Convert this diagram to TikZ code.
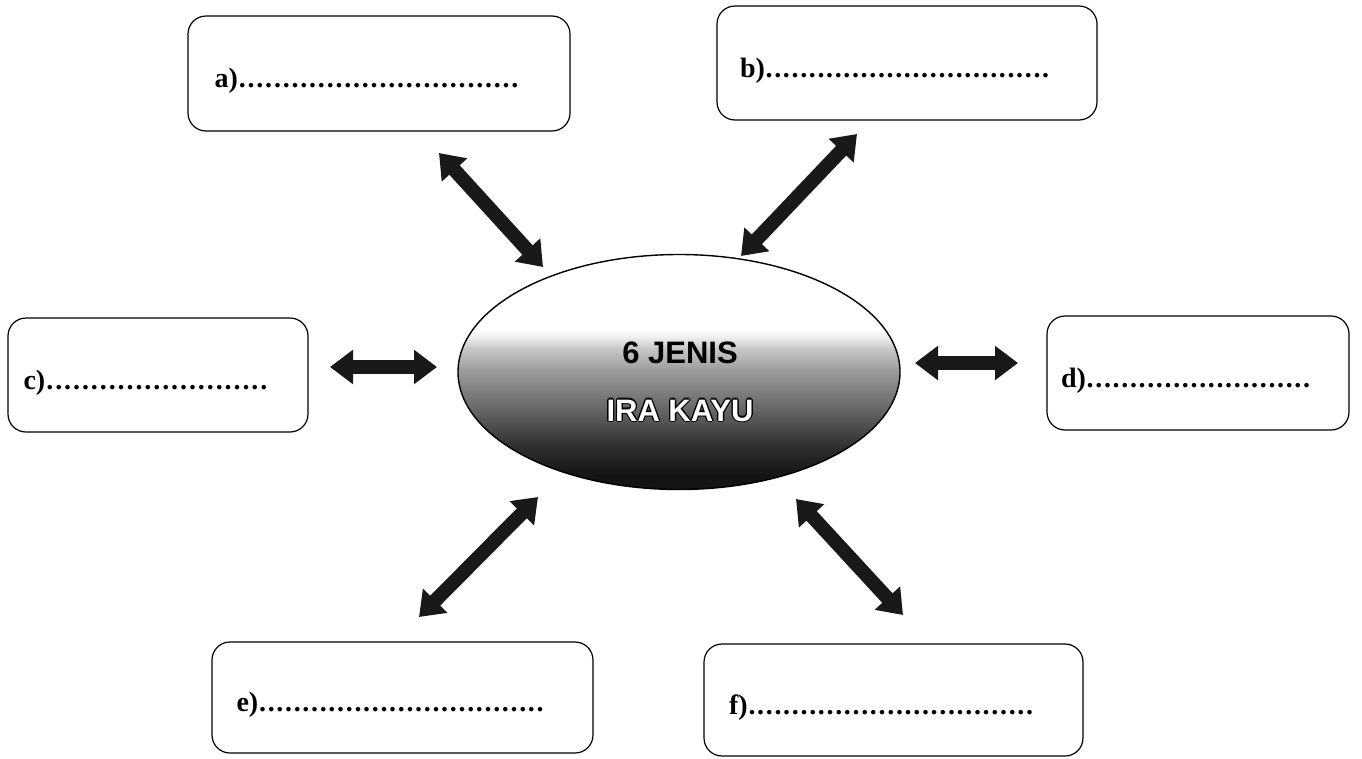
\documentclass[tikz,border=0pt]{standalone}
\usepackage{fontspec}
\setmainfont{Liberation Serif}
\newfontfamily\headfont{Liberation Sans}
\usetikzlibrary{arrows.meta,shapes.geometric}
\pgfdeclareverticalshading{irashade}{100bp}{color(0bp)=(black!95); color(28bp)=(black!92); color(34bp)=(black!82); color(42bp)=(black!60); color(50bp)=(black!40); color(55bp)=(black!22); color(57.5bp)=(black!6); color(59bp)=(white); color(100bp)=(white)}
\newcommand\outltext[1]{%
 \rlap{\kern-1.3pt\textcolor{black}{#1}}%
 \rlap{\kern1.3pt\textcolor{black}{#1}}%
 \rlap{\raisebox{1.3pt}{\textcolor{black}{#1}}}%
 \rlap{\raisebox{-1.3pt}{\textcolor{black}{#1}}}%
 \rlap{\kern-0.9pt\raisebox{0.9pt}{\textcolor{black}{#1}}}%
 \rlap{\kern0.9pt\raisebox{0.9pt}{\textcolor{black}{#1}}}%
 \rlap{\kern-0.9pt\raisebox{-0.9pt}{\textcolor{black}{#1}}}%
 \rlap{\kern0.9pt\raisebox{-0.9pt}{\textcolor{black}{#1}}}%
 \textcolor{white}{#1}}
\newcommand\blank[2]{\raisebox{-14pt}[0pt][0pt]{\makebox[#1][l]{\textbf{#2}\xleaders\hbox to 8.6pt{\hss\textbf{.}\hss}\hfill}}\kern24pt}
\tikzset{
  answerbox/.style={draw=black, line width=1.2pt, rounded corners=18pt, fill=white,
    font=\fontsize{28}{30}\selectfont, inner sep=0pt},
  blockarrow/.style={line width=14pt, draw=black!90,
    {Triangle[length=23pt,width=33pt]}-{Triangle[length=23pt,width=33pt]}},
  irabody/.style={ellipse, draw=black, line width=1.4pt, shading=irashade, inner sep=0pt},
  titletext/.style={font=\headfont\bfseries\fontsize{31}{58}\selectfont, align=center}
}
\begin{document}
\begin{tikzpicture}[x=1pt,y=-1pt]
\useasboundingbox[fill=white] (0,0) rectangle (1362,758);
% central ellipse
\node[irabody, minimum width=442pt, minimum height=235pt] (hub) at (679,372) {};
\node[titletext] (title) at (680,382) {6 JENIS\\\outltext{IRA KAYU}};
% answer boxes
\node[answerbox, minimum width=382pt, minimum height=115pt] (a) at (379,73.5) {\blank{305pt}{a)}};
\node[answerbox, minimum width=380pt, minimum height=114pt] (b) at (907,63) {\blank{310pt}{b)}};
\node[answerbox, minimum width=300pt, minimum height=114pt] (c) at (158,375) {\blank{245pt}{c)}};
\node[answerbox, minimum width=302pt, minimum height=114pt] (d) at (1198,373) {\blank{250pt}{d)}};
\node[answerbox, minimum width=381pt, minimum height=111pt] (e) at (402.5,697.5) {\blank{308pt}{e)}};
\node[answerbox, minimum width=379pt, minimum height=112pt] (f) at (893.5,700) {\blank{305pt}{f)}};
% arrow ends
\coordinate (a1) at (439,153); \coordinate (a2) at (543,267);
\coordinate (b1) at (857,134); \coordinate (b2) at (741,256);
\coordinate (c1) at (330,367); \coordinate (c2) at (437,367);
\coordinate (d1) at (915,363); \coordinate (d2) at (1018,363);
\coordinate (e1) at (538,497); \coordinate (e2) at (419,617);
\coordinate (f1) at (796,499); \coordinate (f2) at (903,615);
\draw[blockarrow] (a1) -- (a2);
\draw[blockarrow] (b1) -- (b2);
\draw[blockarrow] (c1) -- (c2);
\draw[blockarrow] (d1) -- (d2);
\draw[blockarrow] (e1) -- (e2);
\draw[blockarrow] (f1) -- (f2);
\end{tikzpicture}
\end{document}
